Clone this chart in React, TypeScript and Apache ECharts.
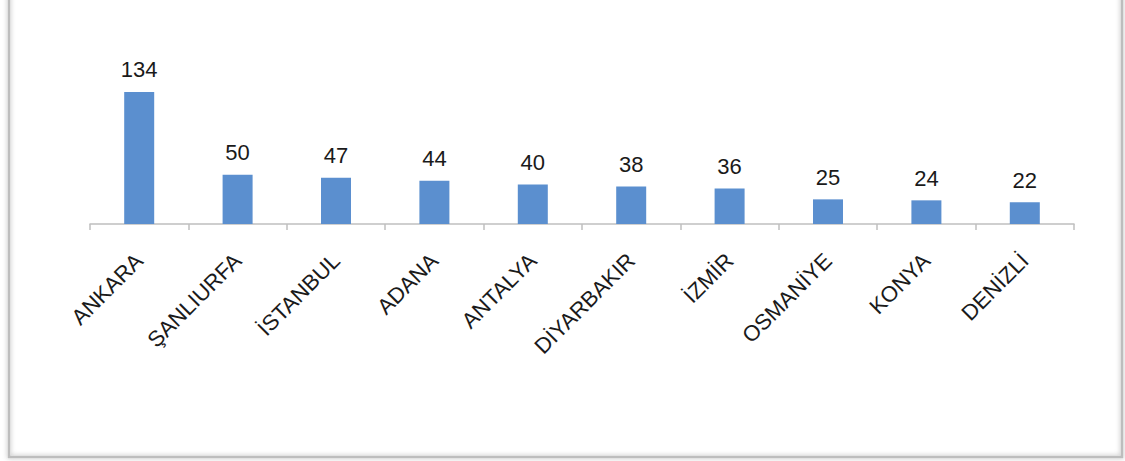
import React, { useEffect, useRef } from "react";
import * as echarts from "echarts";

const categories = ["ANKARA", "ŞANLIURFA", "İSTANBUL", "ADANA", "ANTALYA", "DİYARBAKIR", "İZMİR", "OSMANİYE", "KONYA", "DENİZLİ"];
const values = [134, 50, 47, 44, 40, 38, 36, 25, 24, 22];

export default function App() {
  const ref = useRef<HTMLDivElement>(null);
  useEffect(() => {
    if (!ref.current) return;
    const chart = echarts.init(ref.current, undefined, { renderer: "svg" });
    chart.setOption({
      animation: false,
      backgroundColor: "#ffffff",
      textStyle: { fontFamily: "Liberation Sans, Arial, sans-serif" },
      graphic: [
        {
          type: "rect",
          shape: { x: 9, y: -10, width: 1113, height: 467 },
          style: { fill: "none", stroke: "#bdbdbd", lineWidth: 2.5, shadowBlur: 5, shadowColor: "rgba(0,0,0,0.3)" },
          z: 100,
        },
      ],
      grid: { left: 90, right: 51, top: 86, bottom: 237, containLabel: false },
      xAxis: {
        type: "category",
        data: categories,
        boundaryGap: true,
        axisLine: { show: true, lineStyle: { color: "#bfbfbf", width: 1.5 } },
        axisTick: { show: true, alignWithLabel: false, length: 6, lineStyle: { color: "#bfbfbf", width: 1.5 } },
        axisLabel: { rotate: 45, margin: 33, fontSize: 22, color: "#1a1a1a", interval: 0 },
      },
      yAxis: {
        type: "value",
        min: 0,
        max: 140,
        show: false,
        splitLine: { show: false },
      },
      series: [
        {
          type: "bar",
          data: values,
          barWidth: 30,
          itemStyle: { color: "#5b8fcf" },
          label: { show: true, position: "top", distance: 11, fontSize: 22, color: "#1a1a1a" },
        },
      ],
    });
    return () => chart.dispose();
  }, []);
  return <div ref={ref} style={{ position: "absolute", left: 0, top: 0, width: 1125, height: 461 }} />;
}
